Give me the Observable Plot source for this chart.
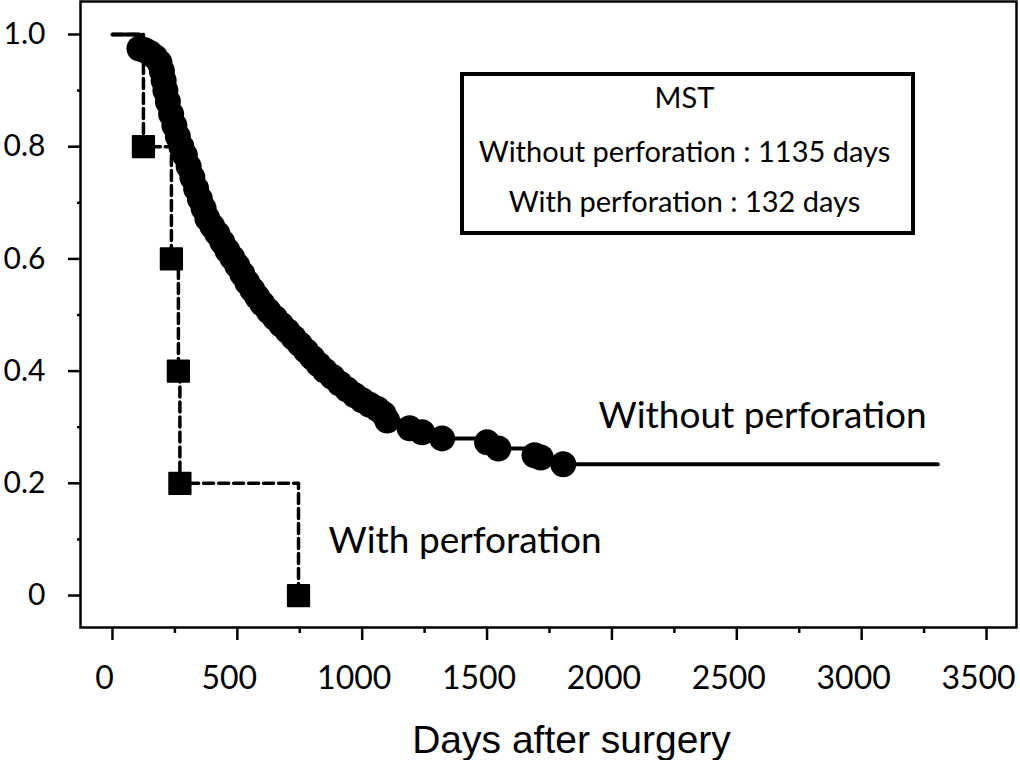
<!DOCTYPE html>
<html>
<head>
<meta charset="utf-8">
<script src="https://cdn.jsdelivr.net/npm/d3@7"></script>
<script src="https://cdn.jsdelivr.net/npm/@observablehq/plot@0.6"></script>
<style>
  body { margin: 0; background: #fff; }
  #wrap { position: relative; width: 1020px; height: 760px; font-family: Lato, sans-serif; }
  #wrap svg { position: absolute; left: 0; top: 0; }
  #mst { position: absolute; left: 460px; top: 72px; width: 441px; height: 155px;
         border: 4px solid #000; background: #fff; text-align: center; color: #000;
         font-family: Lato, sans-serif; font-size: 29px; line-height: 50px; padding-right: 6px; box-sizing: content-box; }
  #mst div { height: 50px; white-space: nowrap; }
  #mst div:first-child { margin-top: -4px; height: 54px; }
</style>
</head>
<body>
<div id="wrap"></div>
<script>
// Without perforation: Kaplan-Meier curve with censor marks
const woStart = {day: 0, surv: 1.0};
const woDays = [108, 130, 150, 170, 188, 198, 205, 212, 222, 235, 248, 262, 276, 290, 305, 320, 335, 350, 365, 380,
  400, 420, 440, 460, 480, 500, 520, 540, 560, 580, 600, 625, 650, 675, 700, 725, 750, 775, 800, 825,
  850, 880, 910, 940, 970, 1000, 1030, 1060, 1085, 1100, 1190, 1240, 1320, 1500, 1545, 1690, 1715, 1805];
const woSurv = [0.975, 0.972, 0.967, 0.960, 0.950, 0.935, 0.918, 0.900, 0.880, 0.858, 0.838, 0.818, 0.800, 0.785, 0.765, 0.745, 0.725, 0.707, 0.690, 0.672,
  0.658, 0.645, 0.630, 0.615, 0.602, 0.588, 0.573, 0.558, 0.545, 0.532, 0.520, 0.507, 0.495, 0.483, 0.472, 0.460, 0.448, 0.436, 0.424, 0.412,
  0.401, 0.390, 0.378, 0.367, 0.357, 0.348, 0.340, 0.333, 0.324, 0.312, 0.298, 0.291, 0.280, 0.273, 0.262, 0.250, 0.246, 0.234];
const woEnd = {day: 3305, surv: 0.234};

// With perforation: 5 patients
const wDays = [0, 124, 236, 264, 270, 745];
const wSurv = [1.0, 0.8, 0.6, 0.4, 0.2, 0.0];

// Axis ticks
const xTicks = [0, 500, 1000, 1500, 2000, 2500, 3000, 3500];
const xMinor = [250, 750, 1250, 1750, 2250, 2750, 3250];
const yTicks = [0, 0.2, 0.4, 0.6, 0.8, 1.0];
const yMinor = [0.1, 0.3, 0.5, 0.7, 0.9];

// Text
const xLabel = "Days after surgery";
const seriesLabels = [
  {text: "Without perforation", day: 1946, surv: 0.298},
  {text: "With perforation", day: 865, surv: 0.075}
];
const mstLines = ["MST", "Without perforation : 1135 days", "With perforation : 132 days"];

const censor = woDays.map((d, i) => ({day: d, surv: woSurv[i]}));
const woLine = [woStart, ...censor, woEnd];
const wLine = wDays.map((d, i) => ({day: d, surv: wSurv[i]}));
const wEvents = wLine.slice(1);

const chart = Plot.plot({
  width: 1020,
  height: 760,
  marginLeft: 80,
  marginRight: 4,
  marginTop: 1,
  marginBottom: 133,
  style: {fontFamily: "Lato, sans-serif", color: "#000", background: "#fff"},
  x: {domain: [-128, 3620]},
  y: {domain: [-0.057, 1.0588]},
  marks: [
    Plot.frame({stroke: "#000", strokeWidth: 2.5}),
    Plot.axisX({ticks: xTicks, tickSize: 13, strokeWidth: 2.5, tickFormat: () => "", label: null}),
    Plot.axisX({ticks: xTicks, tickSize: 0, tickPadding: 39, fontSize: 32, dx: -8, tickFormat: d => String(d), label: null}),
    Plot.axisX({ticks: xMinor, tickSize: 6, strokeWidth: 2.5, tickFormat: () => "", label: null}),
    Plot.axisY({ticks: yTicks, tickSize: 12, tickPadding: 23, fontSize: 30, strokeWidth: 2.5, tickFormat: d => d === 0 ? "0" : d.toFixed(1), label: null}),
    Plot.axisY({ticks: yMinor, tickSize: 3, strokeWidth: 2.5, tickFormat: () => "", label: null}),
    Plot.line(wLine, {x: "day", y: "surv", curve: "step-after", stroke: "#000", strokeWidth: 3.5, strokeDasharray: "10,5"}),
    Plot.dot(wEvents, {x: "day", y: "surv", symbol: "square", r: 12, fill: "#000", stroke: "#000", strokeWidth: 2, strokeLinejoin: "round"}),
    Plot.line(woLine, {x: "day", y: "surv", curve: "step-after", stroke: "#000", strokeWidth: 4}),
    Plot.dot(censor, {x: "day", y: "surv", r: 13, fill: "#000", stroke: "none"}),
    Plot.text(seriesLabels, {x: "day", y: "surv", text: "text", textAnchor: "start", lineAnchor: "bottom", fontSize: 37, fill: "#000"}),
    Plot.text([xLabel], {frameAnchor: "bottom", dx: 23, dy: 125, lineAnchor: "bottom", fontSize: 39, fontFamily: "Liberation Sans, Arial, sans-serif", fill: "#000"})
  ]
});

const wrap = document.getElementById("wrap");
wrap.appendChild(chart);
const box = document.createElement("div");
box.id = "mst";
mstLines.forEach(t => { const d = document.createElement("div"); d.textContent = t; box.appendChild(d); });
wrap.appendChild(box);
</script>
</body>
</html>
